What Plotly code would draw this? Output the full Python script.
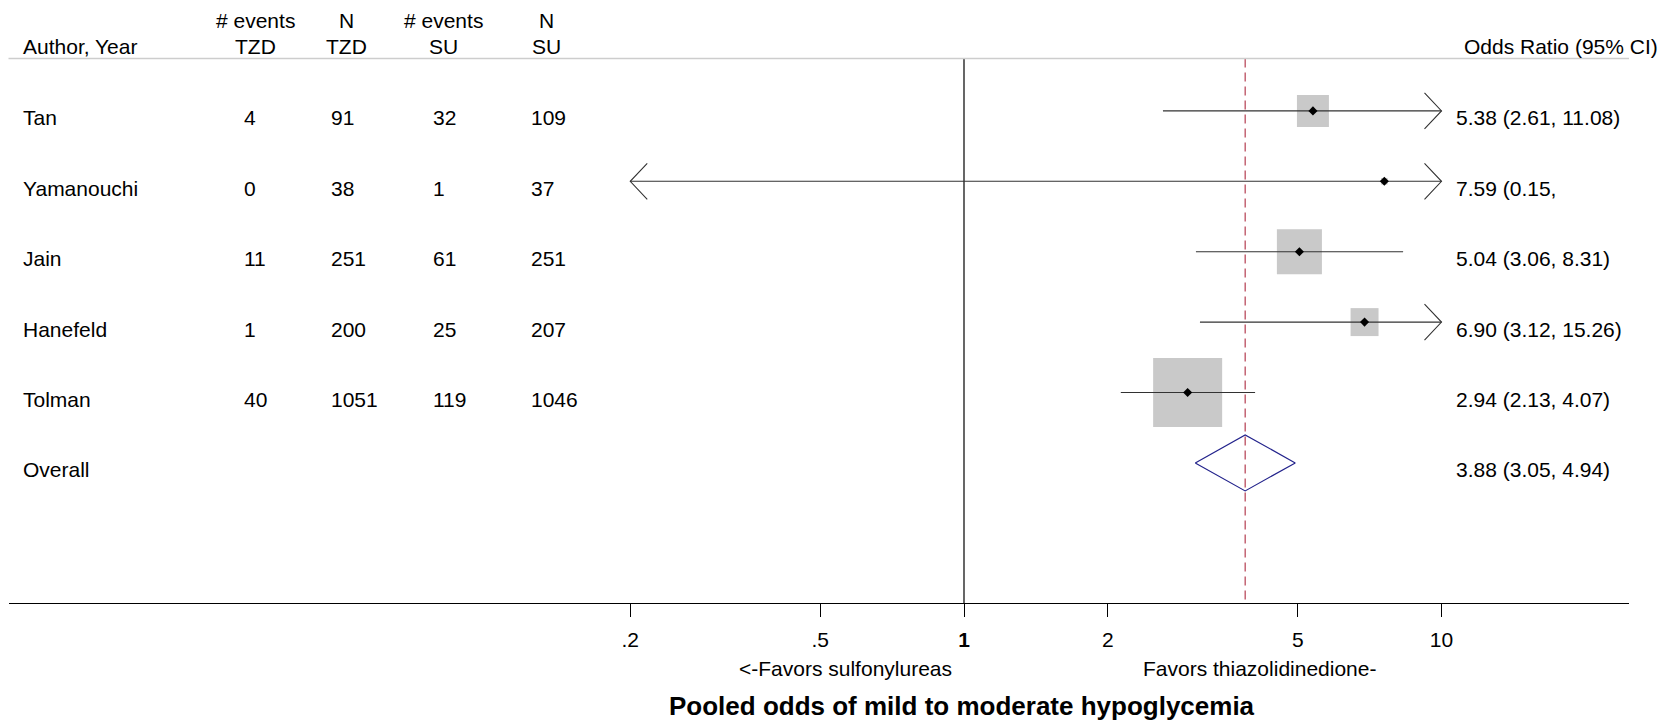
import numpy as np
import plotly.graph_objects as go

# ---------------- data ----------------
authors = ["Tan", "Yamanouchi", "Jain", "Hanefeld", "Tolman"]
ev_tzd = [4, 0, 11, 1, 40]
n_tzd = [91, 38, 251, 200, 1051]
ev_su = [32, 1, 61, 25, 119]
n_su = [109, 37, 251, 207, 1046]
odds = [5.38, 7.59, 5.04, 6.90, 2.94]
ci_lo = [2.61, 0.15, 3.06, 3.12, 2.13]
ci_hi = [11.08, 384.0, 8.31, 15.26, 4.07]
weights = [11.9, 0.5, 23.6, 9.1, 55.4]
or_labels = ["5.38 (2.61, 11.08)", "7.59 (0.15,", "5.04 (3.06, 8.31)",
             "6.90 (3.12, 15.26)", "2.94 (2.13, 4.07)"]
overall_label = "Overall"
pooled, pooled_lo, pooled_hi = 3.88, 3.05, 4.94
pooled_text = "3.88 (3.05, 4.94)"
tick_vals = [0.2, 0.5, 1, 2, 5, 10]
tick_text = [".2", ".5", "<b>1</b>", "2", "5", "10"]
clip_lo, clip_hi = 0.2, 10

# ---------------- geometry (page pixels, body margin 8px) ----------------
OFF = 8
W, H = 1669 - 2 * OFF, 724 - OFF
FONT = "Liberation Sans, Arial, Helvetica, sans-serif"
FS = 21
PAD = 2.5
x_left_px, x_right_px = 8.5, 1629
y_top_px, y_axis_px = 58.5, 603.3
row0_px, row_step = 110.9, 70.4
y_top = (y_top_px - row0_px) / row_step
y_bot = (y_axis_px - row0_px) / row_step
px_per_dec = 477.5
null_px = 964
dx_arrow = 17 / px_per_dec
dy_arrow = 18 / row_step
dh_diamond = 28 / row_step
text_off = 7 / row_step

rows = list(range(len(authors)))
overall_row = len(authors)


def px(x):
    return (x - OFF) / W


def py(y):
    return 1 - (y - OFF) / H


fig = go.Figure()

# boxes (area proportional to weight)
max_w = max(weights)
box_sizes = [69 * np.sqrt(w / max_w) for w in weights]
fig.add_trace(go.Scatter(x=odds, y=rows, mode="markers",
                         marker=dict(symbol="square", size=box_sizes,
                                     color="rgb(178,178,178)", line=dict(width=0)),
                         hoverinfo="skip"))

# null line and pooled dashed line
fig.add_trace(go.Scatter(x=[1, 1], y=[y_top, y_bot], mode="lines",
                         line=dict(color="black", width=1.2), hoverinfo="skip"))
fig.add_trace(go.Scatter(x=[pooled, pooled], y=[y_top, y_bot], mode="lines",
                         line=dict(color="rgb(180,60,80)", width=1.2, dash="9px,5px"),
                         hoverinfo="skip"))

# CI lines + arrows
cx, cy = [], []
for i in rows:
    lo = max(ci_lo[i], clip_lo)
    hi = min(ci_hi[i], clip_hi)
    cx += [lo, hi, None]
    cy += [i, i, None]
    if ci_hi[i] > clip_hi:
        f = 10 ** (-dx_arrow)
        cx += [clip_hi * f, clip_hi, clip_hi * f, None]
        cy += [i - dy_arrow, i, i + dy_arrow, None]
    if ci_lo[i] < clip_lo:
        f = 10 ** (dx_arrow)
        cx += [clip_lo * f, clip_lo, clip_lo * f, None]
        cy += [i - dy_arrow, i, i + dy_arrow, None]
fig.add_trace(go.Scatter(x=cx, y=cy, mode="lines", connectgaps=False,
                         line=dict(color="rgb(50,50,50)", width=1.1), hoverinfo="skip"))

# point estimates
fig.add_trace(go.Scatter(x=odds, y=rows, mode="markers",
                         marker=dict(symbol="diamond", size=7, color="black",
                                     line=dict(width=0)),
                         hoverinfo="skip"))

# overall diamond
fig.add_trace(go.Scatter(
    x=[pooled_lo, pooled, pooled_hi, pooled, pooled_lo],
    y=[overall_row, overall_row - dh_diamond, overall_row, overall_row + dh_diamond, overall_row],
    mode="lines", line=dict(color="rgb(35,35,140)", width=1.2), hoverinfo="skip"))

# ---------------- annotations ----------------
ann = []


def add_text(text, x, y, xanchor="left", yref="paper", size=FS, bold=False):
    if xanchor == "left":
        x = x - PAD
    elif xanchor == "right":
        x = x + PAD
    ann.append(dict(text=("<b>%s</b>" % text) if bold else text,
                    x=px(x), y=y, xref="paper", yref=yref,
                    xanchor=xanchor, yanchor="middle", showarrow=False,
                    font=dict(family=FONT, size=size, color="black")))


# headers
add_text("Author, Year", 23.5, py(46))
for cxp, l1, l2 in [(255, "# events", "TZD"), (346, "N", "TZD"),
                    (443, "# events", "SU"), (546, "N", "SU")]:
    add_text(l1, cxp, py(20), xanchor="center")
    add_text(l2, cxp, py(46), xanchor="center")
add_text("Odds Ratio (95% CI)", 1657, py(46), xanchor="right")

col_x = [23.5, 244.5, 331, 433, 531]
or_x = 1456
for i in rows:
    yy = i + text_off
    vals = [authors[i], ev_tzd[i], n_tzd[i], ev_su[i], n_su[i]]
    for xp, v in zip(col_x, vals):
        add_text(str(v), xp, yy, yref="y")
    add_text(or_labels[i], or_x, yy, yref="y")
add_text(overall_label, col_x[0], overall_row + text_off, yref="y")
add_text(pooled_text, or_x, overall_row + text_off, yref="y")

add_text("&lt;-Favors sulfonylureas", 845, py(668), xanchor="center")
add_text("Favors thiazolidinedione-", 1259, py(668), xanchor="center")
add_text("Pooled odds of mild to moderate hypoglycemia", 962, py(705.5),
         xanchor="center", size=26, bold=True)

# header separator line
shapes = [dict(type="line", xref="paper", yref="paper",
               x0=px(x_left_px), x1=px(x_right_px), y0=py(y_top_px), y1=py(y_top_px),
               line=dict(color="rgb(205,205,205)", width=1.5))]

x_lo_log = (x_left_px - null_px) / px_per_dec
x_hi_log = (x_right_px - null_px) / px_per_dec

fig.update_layout(
    width=W, height=H, margin=dict(l=0, r=0, t=0, b=0),
    paper_bgcolor="white", plot_bgcolor="white", showlegend=False,
    annotations=ann, shapes=shapes,
    xaxis=dict(type="log", range=[x_lo_log, x_hi_log],
               domain=[px(x_left_px), px(x_right_px)],
               showgrid=False, zeroline=False, showline=True,
               linecolor="black", linewidth=1.2,
               tickvals=tick_vals, ticktext=tick_text,
               ticks="outside", ticklen=13, tickwidth=1.2, tickcolor="black",
               ticklabelstandoff=4,
               tickfont=dict(family=FONT, size=FS, color="black"),
               fixedrange=True),
    yaxis=dict(range=[y_bot, y_top], domain=[py(y_axis_px), py(y_top_px)],
               visible=False, fixedrange=True),
    font=dict(family=FONT, size=FS, color="black"),
)

fig.write_html("out.html")
